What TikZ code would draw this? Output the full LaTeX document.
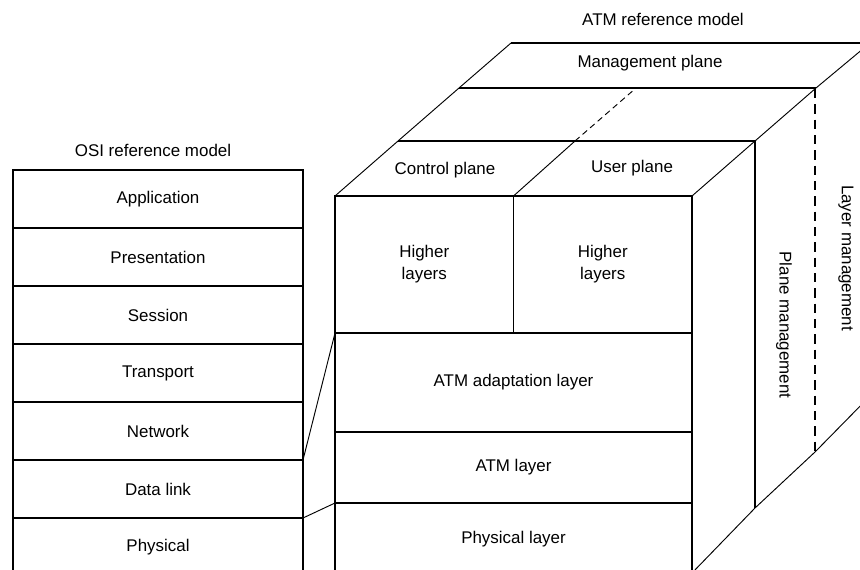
\documentclass[tikz,border=0pt]{standalone}
\usepackage{fontspec}
\setmainfont{Liberation Sans}
\usetikzlibrary{positioning}

\tikzset{every picture/.style={line width=0.75pt}}
\tikzset{
  txt/.style={inner sep=0.75pt, font=\fontsize{12.7}{16.5}\selectfont},
  lyr/.style={txt, draw, line width=1.1pt, outer sep=0pt, inner sep=0pt, align=center},
  osilyr/.style={lyr, minimum width=217.5pt, minimum height=43.5pt},
  edge/.style={line width=1.1pt},
  slant/.style={line width=0.7pt},
}

\begin{document}
\begin{tikzpicture}[x=0.75pt,y=0.75pt,yscale=-1,xscale=1]
     \useasboundingbox (0,0) rectangle (860,569);
     \clip (0,0) rectangle (860,569);
     % OSI stack
     \node [osilyr, anchor=north west] (app) at (13,170) {Application};
     \node [osilyr, below=0pt of app] (pres) {Presentation};
     \node [osilyr, below=0pt of pres] (sess) {Session};
     \node [osilyr, below=0pt of sess] (trans) {Transport};
     \node [osilyr, below=0pt of trans] (net) {Network};
     \node [osilyr, below=0pt of net] (dlink) {Data link};
     \node [osilyr, below=0pt of dlink] (phys) {Physical};
     % ATM front face
     \node [lyr, minimum width=133.875pt, minimum height=102.75pt, anchor=north west] (ctlhigh) at (335,196) {Higher\\layers};
     \node [lyr, minimum width=133.875pt, minimum height=102.75pt, right=0pt of ctlhigh] (usrhigh) {Higher\\layers};
     \node [lyr, minimum width=267.75pt, minimum height=74.25pt, below right=0pt and 0pt of ctlhigh.south west] (aal) {ATM adaptation layer};
     \node [lyr, minimum width=267.75pt, minimum height=53.25pt, below=0pt of aal] (atml) {ATM layer};
     \node [lyr, minimum width=267.75pt, minimum height=54pt, below=0pt of atml] (atmphys) {Physical layer};
     %Straight Lines: top face
     \draw [slant] (ctlhigh.north west) -- (398,141) -- (459,88) -- (511,43) ;
     \draw [slant] (ctlhigh.north east) -- (575,141) ;
     \draw [slant, dash pattern={on 4.5pt off 3pt}] (575,141) -- (636,88) ;
     \draw [slant] (usrhigh.north east) -- (755,141) -- (816,88) -- (870,43) ;
     \draw [edge] (511,43) -- (870,43) ;
     \draw [edge] (459,88) -- (816,88) ;
     \draw [edge] (398,141) -- (755,141) ;
     %Straight Lines: side planes
     \draw [edge] (755,141) -- (755,508) ;
     \draw [edge, dash pattern={on 7pt off 4.5pt}] (815,89) -- (815,452) ;
     \draw [slant] (692,573) -- (755,508) -- (815,452) -- (870,396) ;
     %Straight Lines: OSI to ATM
     \draw [slant] (net.south east) -- (aal.north west) ;
     \draw [slant] (dlink.south east) -- (atmphys.north west) ;
     % Text Node
     \draw (153,150) node [txt] (osititle) {OSI reference model};
     % Text Node
     \draw (663,19) node [txt] (atmtitle) {ATM reference model};
     % Text Node
     \draw (650,63) node [txt] (mgmtpl) {Management plane};
     % Text Node
     \draw (445,170) node [txt] (ctlpl) {Control plane};
     % Text Node
     \draw (632,168) node [txt] (usrpl) {User plane};
     % Text Node
     \draw (784,325) node [txt, rotate=-90] (plmgmt) {Plane management};
     % Text Node
     \draw (846,258) node [txt, rotate=-90] (lymgmt) {Layer management};
\end{tikzpicture}
\end{document}
